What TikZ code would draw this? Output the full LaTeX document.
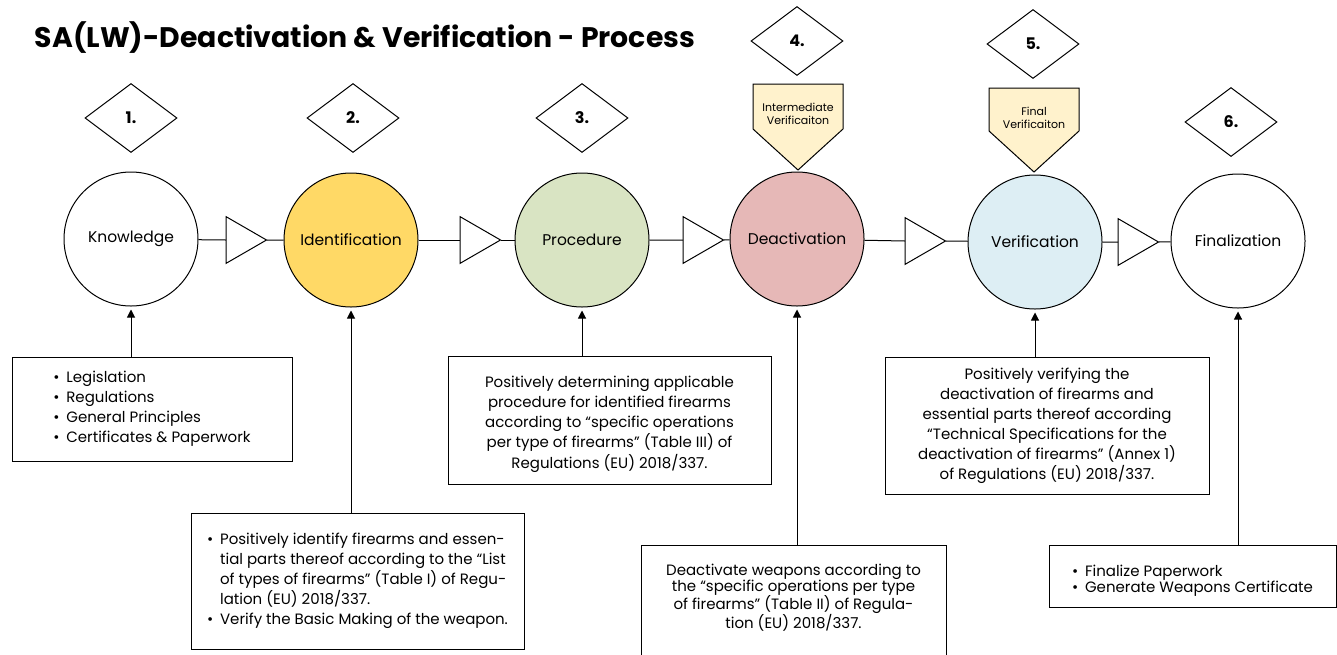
\documentclass[tikz,border=0pt]{standalone}
\usepackage{fontspec}
\setmainfont{Poppins}
\usetikzlibrary{arrows.meta,positioning,shapes.geometric}
\definecolor{identyellow}{HTML}{FFD966}
\definecolor{procgreen}{HTML}{D9E4C3}
\definecolor{deactpink}{HTML}{E6B8B7}
\definecolor{verifblue}{HTML}{DDEEF4}
\definecolor{tagcream}{HTML}{FFF2CC}
\newcommand{\bul}{\makebox[13pt][l]{\textbullet}}
\newcommand{\ind}{\hspace*{13pt}}

\begin{document}
\begin{tikzpicture}[x=1pt, y=-1pt, line width=1pt,
  stage/.style={draw, circle, minimum size=134pt, inner sep=0pt,
    font=\fontsize{15.5}{18}\selectfont},
  num/.style={draw, diamond, minimum width=92pt, minimum height=69pt,
    inner sep=0pt, font=\bfseries\fontsize{16}{18}\selectfont},
  flow/.style={draw, regular polygon, regular polygon sides=3,
    shape border rotate=-90, minimum size=54pt, inner sep=0pt, outer sep=0pt},
  note/.style={draw, inner sep=0pt, font=\fontsize{15}{20}\selectfont},
  tight/.style={font=\fontsize{15}{15.5}\selectfont},
  tagbox/.style={draw, fill=tagcream},
  tagtext/.style={font=\fontsize{11}{13}\selectfont, align=center},
  arrow/.style={-{Triangle[length=8pt,width=8pt]}, shorten >=3pt}]
\useasboundingbox (0,0) rectangle (1337,654);
\node[anchor=west, font=\bfseries\fontsize{28.3}{32}\selectfont] (title) at (31,38)
  {SA(LW)-Deactivation \& Verification - Process};
% numbers
\node[num] (n1) at (131,118) {1.};
\node[num] (n2) at (353,118) {2.};
\node[num] (n3) at (582,118) {3.};
\node[num] (n4) at (797,41) {4.};
\node[num] (n5) at (1033,44) {5.};
\node[num] (n6) at (1231,122) {6.};
% verification tags
\draw[tagbox] (753,84) -- (843,84) -- (843,129) -- (798,170) -- (753,129) -- cycle;
\node[tagtext] (tag4) at (798,114) {Intermediate\\Verificaiton};
\draw[tagbox] (989,88) -- (1079,88) -- (1079,131) -- (1034,172) -- (989,131) -- cycle;
\node[tagtext] (tag5) at (1034,118) {Final\\Verificaiton};
% stages
\node[stage] (know) at (131,239) {Knowledge};
\node[stage, fill=identyellow] (ident) at (351,240) {Identification};
\node[stage, fill=procgreen] (proc) at (582,240) {Procedure};
\node[stage, fill=deactpink] (deact) at (797,239) {Deactivation};
\node[stage, fill=verifblue] (verif) at (1035,242) {Verification};
\node[stage] (final) at (1238,241) {Finalization};
\node[flow] (t1) at (239.5,240) {};
\node[flow] (t2) at (473.5,240) {};
\node[flow] (t3) at (696.5,240) {};
\node[flow] (t4) at (918.5,241) {};
\node[flow] (t5) at (1131.5,242) {};
\foreach \a/\t/\b in {know/t1/ident, ident/t2/proc, proc/t3/deact,
    deact/t4/verif, verif/t5/final}
  \draw (\a) -- (\t.west) (\t.east) -- (\b);
% notes
\node[note, minimum width=280pt, minimum height=104pt, align=left] (kbox) at (152,409)
  {\bul Legislation\\ \bul Regulations\\ \bul General Principles\\
   \bul Certificates \& Paperwork};
\node[note, minimum width=333pt, minimum height=136pt, align=left] (ibox) at (357.5,581)
  {\bul Positively identify firearms and essen-\\
   \ind tial parts thereof according to the ``List\\
   \ind of types of firearms'' (Table I) of Regu-\\
   \ind lation (EU) 2018/337.\\
   \bul Verify the Basic Making of the weapon.};
\node[note, minimum width=323pt, minimum height=128pt, align=center] (pbox) at (609.5,420)
  {\raisebox{0pt}[\dimexpr\height+8pt][\depth]{\begin{tabular}{@{}c@{}}
   Positively determining applicable\\ procedure for identified firearms\\
   according to ``specific operations\\ per type of firearms'' (Table III) of\\
   Regulations (EU) 2018/337.\end{tabular}}};
\node[note, tight, minimum width=305pt, minimum height=120pt, anchor=north] (dbox) at (793.5,545)
  {\raisebox{0pt}[\height][\dimexpr\depth+14pt]{\begin{tabular}{@{}c@{}}
   Deactivate weapons according to\\ the ``specific operations per type\\
   of firearms'' (Table II) of Regula-\\ tion (EU) 2018/337.\end{tabular}}};
\node[note, minimum width=324pt, minimum height=137pt, align=center] (vbox) at (1047,425.5)
  {Positively verifying the\\ deactivation of firearms and\\
   essential parts thereof according\\ ``Technical Specifications for the\\
   deactivation of firearms'' (Annex 1)\\ of Regulations (EU) 2018/337.};
\node[note, tight, minimum width=287pt, minimum height=62pt] (fbox) at (1192.5,576)
  {\raisebox{0pt}[\dimexpr\height+10pt][\depth]{\begin{tabular}{@{}l@{}}
   \bul Finalize Paperwork\\ \bul Generate Weapons Certificate\end{tabular}}};
% feeds
\draw[arrow] (know |- kbox.north) -- (know.south);
\draw[arrow] (ident |- ibox.north) -- (ident.south);
\draw[arrow] (proc |- pbox.north) -- (proc.south);
\draw[arrow] (deact |- dbox.north) -- (deact.south);
\draw[arrow] (verif |- vbox.north) -- (verif.south);
\draw[arrow] (final |- fbox.north) -- (final.south);
\end{tikzpicture}
\end{document}
